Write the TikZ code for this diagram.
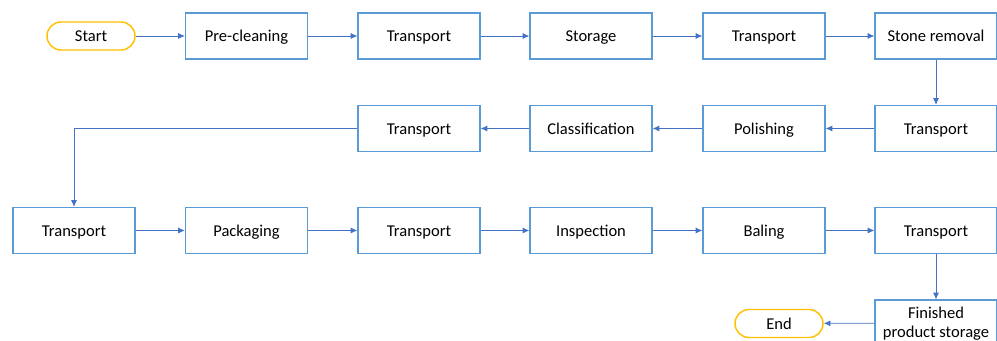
\documentclass[tikz,border=0pt]{standalone}
\usepackage{fontspec}
\setmainfont{Carlito}
\usetikzlibrary{arrows.meta}
\definecolor{boxblue}{HTML}{5B9BD5}
\definecolor{arrowblue}{HTML}{4472C4}
\definecolor{termgold}{HTML}{FFC000}
\begin{document}
\begin{tikzpicture}[x=0.75pt,y=-0.75pt,
  txt/.style={font=\fontsize{12.4}{14.25}\selectfont,text height=10.4pt,text depth=2pt},
  procbox/.style={draw=boxblue,line width=0.9pt,minimum width=91.5pt,minimum height=34.5pt,inner sep=0pt,align=center,fill=white,txt},
  termbox/.style={draw=termgold,line width=1.1pt,rounded corners=10.5pt,minimum width=66pt,minimum height=21pt,inner sep=0pt,txt},
  flow/.style={draw=arrowblue,line width=0.6pt,-{Latex[length=5pt,width=4.5pt]}}]
\useasboundingbox (0,0) rectangle (997,341);
\clip (0,0) rectangle (997,341);
% row 1
\node[termbox] (start) at (91,36) {Start};
\node[procbox] (pre) at (246.5,36) {Pre-cleaning};
\node[procbox] (t1) at (419,36) {Transport};
\node[procbox] (stor) at (591,36) {Storage};
\node[procbox] (t2) at (764,36) {Transport};
\node[procbox] (stone) at (936,36) {Stone removal};
% row 2
\node[procbox] (t3) at (936,128.5) {Transport};
\node[procbox] (pol) at (764,128.5) {Polishing};
\node[procbox] (cls) at (591,128.5) {Classification};
\node[procbox] (t4) at (419,128.5) {Transport};
% row 3
\node[procbox] (t5) at (74,230.5) {Transport};
\node[procbox] (pack) at (246.5,230.5) {Packaging};
\node[procbox] (t6) at (419,230.5) {Transport};
\node[procbox] (insp) at (591,230.5) {Inspection};
\node[procbox] (bal) at (764,230.5) {Baling};
\node[procbox] (t7) at (936,230.5) {Transport};
% row 4
\node[procbox] (fin) at (936,323) {};
\node[inner sep=0pt,align=center,font=\fontsize{12.4}{14.25}\selectfont] (fintext) at (936,323.5) {Finished\\product storage};
\node[termbox] (end) at (779,323.5) {End};
% connectors
\draw[flow] (start) -- (pre);
\draw[flow] (pre) -- (t1);
\draw[flow] (t1) -- (stor);
\draw[flow] (stor) -- (t2);
\draw[flow] (t2) -- (stone);
\draw[flow] (stone) -- (t3);
\draw[flow] (t3) -- (pol);
\draw[flow] (pol) -- (cls);
\draw[flow] (cls) -- (t4);
\draw[flow] (t4.west) -| (t5.north);
\draw[flow] (t5) -- (pack);
\draw[flow] (pack) -- (t6);
\draw[flow] (t6) -- (insp);
\draw[flow] (insp) -- (bal);
\draw[flow] (bal) -- (t7);
\draw[flow] (t7) -- (fin);
\draw[flow] (fin) -- (end);
\end{tikzpicture}
\end{document}
